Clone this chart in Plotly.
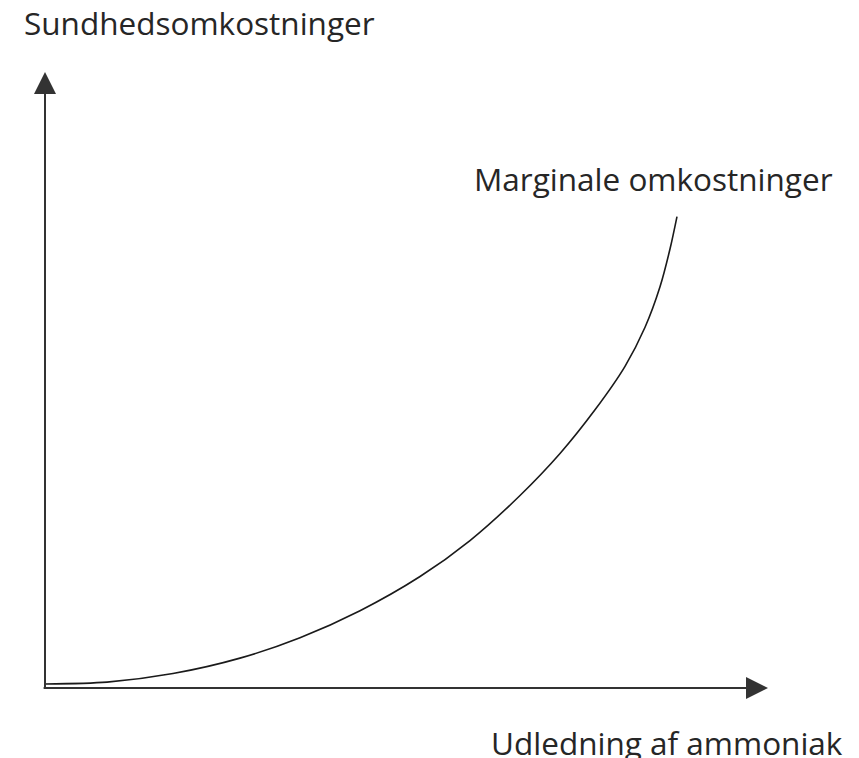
import plotly.graph_objects as go

# Schematic: marginal health costs of ammonia emissions (arbitrary units)
udledning = [0, 8.58, 17.70, 26.97, 35.27, 43.57, 51.87, 58.78, 65.70,
             71.23, 76.07, 80.22, 82.99, 85.06, 86.45, 87.41]
omkostninger = [0.65, 0.96, 2.35, 4.85, 8.17, 12.55, 18.10, 23.94, 31.25,
                38.07, 45.16, 52.22, 58.56, 65.13, 71.30, 76.53]

axis_end_x = 100
axis_end_y = 100

x_label = "Udledning af ammoniak"
y_label = "Sundhedsomkostninger"
curve_label = "Marginale omkostninger"

FONT = "Open Sans, Liberation Sans, sans-serif"
TEXT_COLOR = "#262626"
AXIS_COLOR = "#333333"

fig = go.Figure()

fig.add_trace(
    go.Scatter(
        x=udledning,
        y=omkostninger,
        mode="lines",
        line=dict(color="#1a1a1a", width=1.6, shape="spline", smoothing=0.8),
        showlegend=False,
        hoverinfo="skip",
    )
)

# axes drawn as arrows from the origin
fig.add_annotation(
    x=axis_end_x, y=0, ax=-0.4, ay=0,
    xref="x", yref="y", axref="x", ayref="y",
    text="", showarrow=True,
    arrowhead=2, arrowsize=2.2, arrowwidth=2, arrowcolor=AXIS_COLOR,
)
fig.add_annotation(
    x=0, y=axis_end_y, ax=0, ay=-0.4,
    xref="x", yref="y", axref="x", ayref="y",
    text="", showarrow=True,
    arrowhead=2, arrowsize=2.2, arrowwidth=2, arrowcolor=AXIS_COLOR,
)

# labels
fig.add_annotation(
    x=-3.2, y=108.0, xref="x", yref="y",
    text=y_label, showarrow=False,
    xanchor="left", yanchor="middle",
    font=dict(family=FONT, size=31.5, color=TEXT_COLOR),
)
fig.add_annotation(
    x=59.1, y=82.7, xref="x", yref="y",
    text=curve_label, showarrow=False,
    xanchor="left", yanchor="middle",
    font=dict(family=FONT, size=31.5, color=TEXT_COLOR),
)
fig.add_annotation(
    x=61.4, y=-8.9, xref="x", yref="y",
    text=x_label, showarrow=False,
    xanchor="left", yanchor="middle",
    font=dict(family=FONT, size=31.5, color=TEXT_COLOR),
)

fig.update_layout(
    width=859,
    height=758,
    margin=dict(l=0, r=0, t=0, b=0),
    paper_bgcolor="white",
    plot_bgcolor="white",
    xaxis=dict(range=[-5.118, 113.69], visible=False, fixedrange=True),
    yaxis=dict(range=[-12.66, 110.39], visible=False, fixedrange=True),
)

fig.write_html("out.html")
